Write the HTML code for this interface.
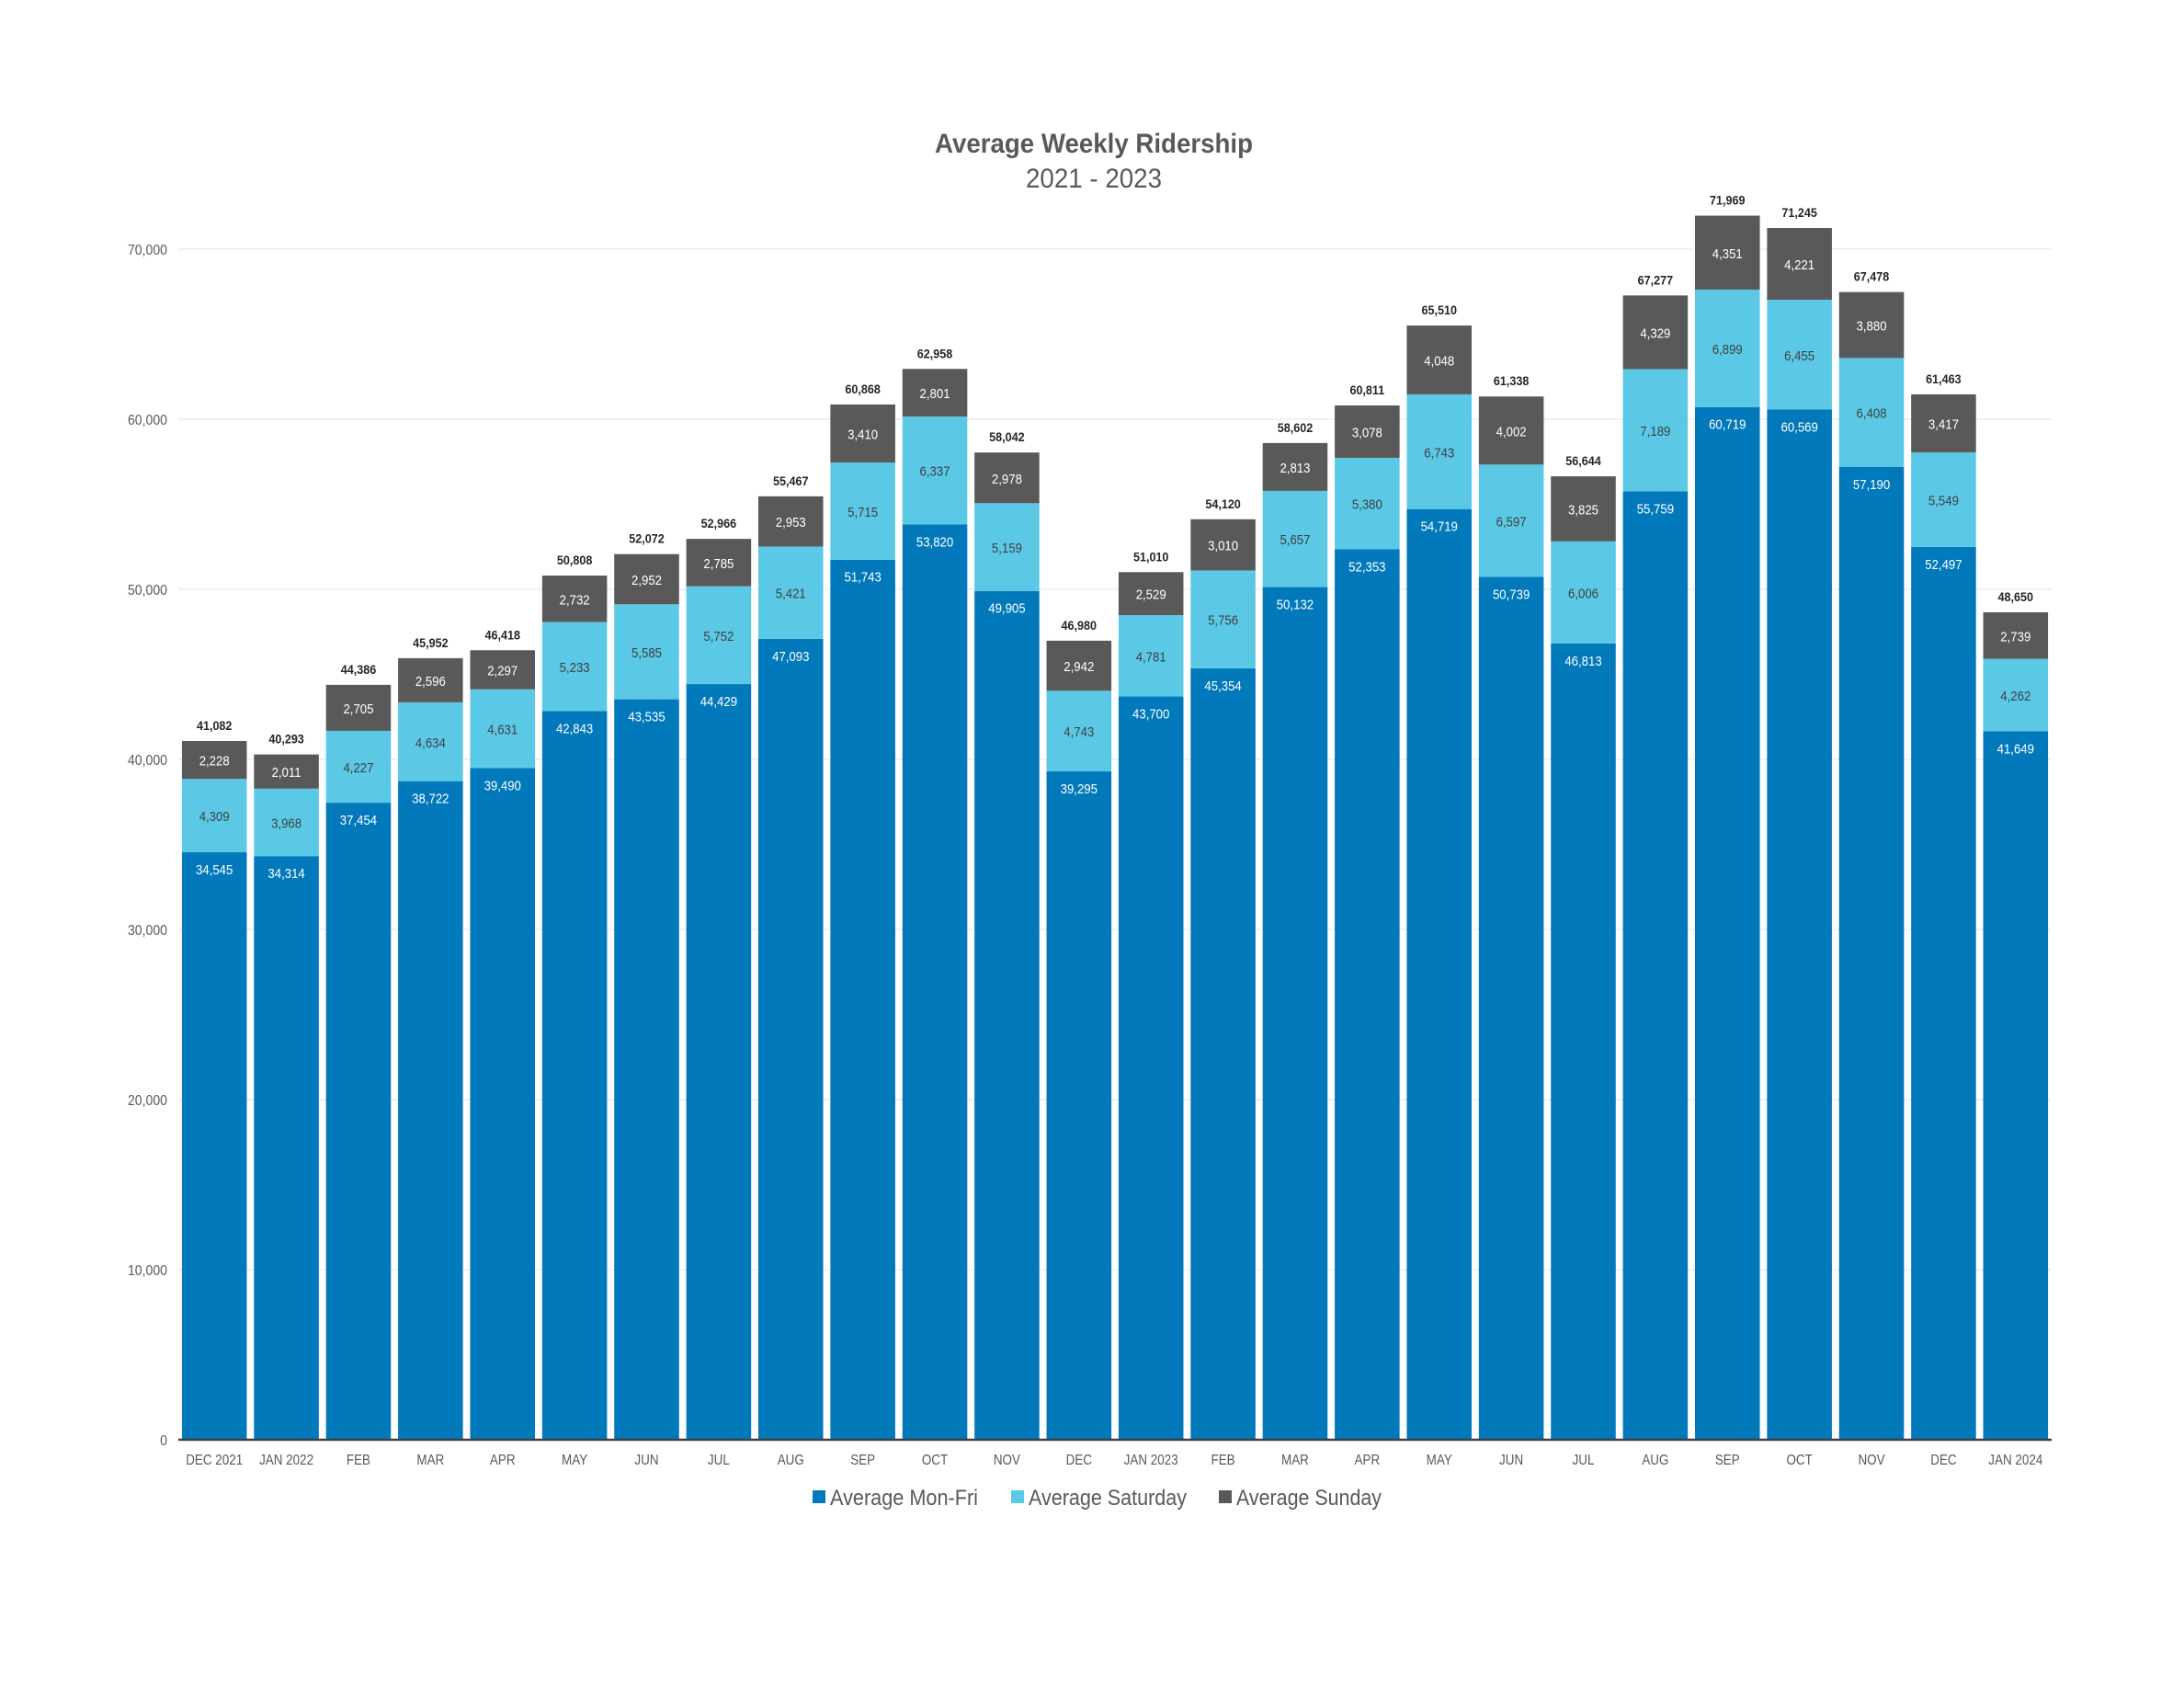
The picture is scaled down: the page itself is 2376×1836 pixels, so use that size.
<!DOCTYPE html>
<html><head><meta charset="utf-8"><style>
html,body{margin:0;padding:0;background:#fff;}
svg{display:block;font-family:"Liberation Sans Narrow","Liberation Sans",sans-serif;}
</style></head><body>
<svg id="chart" width="2376" height="1836" viewBox="0 0 2376 1836">
<text x="1190" y="166" text-anchor="middle" font-size="30" font-weight="bold" fill="#595959" textLength="346" lengthAdjust="spacingAndGlyphs">Average Weekly Ridership</text>
<text x="1190" y="204" text-anchor="middle" font-size="30" fill="#595959" textLength="148" lengthAdjust="spacingAndGlyphs">2021 - 2023</text>
<g id="grid"></g><g id="bars"></g><g id="axes"></g>
<g>
<rect x="884" y="1621" width="14" height="14" fill="#0279BA"/>
<text x="903" y="1637" font-size="24" fill="#595959" textLength="161" lengthAdjust="spacingAndGlyphs">Average Mon-Fri</text>
<rect x="1100" y="1621" width="14" height="14" fill="#5BC8E6"/>
<text x="1119" y="1637" font-size="24" fill="#595959" textLength="172" lengthAdjust="spacingAndGlyphs">Average Saturday</text>
<rect x="1326" y="1621" width="14" height="14" fill="#595959"/>
<text x="1345" y="1637" font-size="24" fill="#595959" textLength="158" lengthAdjust="spacingAndGlyphs">Average Sunday</text>
</g>
</svg>
<script>
const categories=["DEC 2021","JAN 2022","FEB","MAR","APR","MAY","JUN","JUL","AUG","SEP","OCT","NOV","DEC","JAN 2023","FEB","MAR","APR","MAY","JUN","JUL","AUG","SEP","OCT","NOV","DEC","JAN 2024"];
const monFri=[34545,34314,37454,38722,39490,42843,43535,44429,47093,51743,53820,49905,39295,43700,45354,50132,52353,54719,50739,46813,55759,60719,60569,57190,52497,41649];
const saturday=[4309,3968,4227,4634,4631,5233,5585,5752,5421,5715,6337,5159,4743,4781,5756,5657,5380,6743,6597,6006,7189,6899,6455,6408,5549,4262];
const sunday=[2228,2011,2705,2596,2297,2732,2952,2785,2953,3410,2801,2978,2942,2529,3010,2813,3078,4048,4002,3825,4329,4351,4221,3880,3417,2739];
const yTicks=[0,10000,20000,30000,40000,50000,60000,70000];
const NS="http://www.w3.org/2000/svg";
const X0=194,X1=2232,Y0=1566,PER10K=185;
const band=(X1-X0)/categories.length, bw=band*0.9;
function y(v){return Y0-v/10000*PER10K;}
function xc(i){return X0+band*(i+0.5);}
function fmt(v){return v.toLocaleString("en-US");}
function mk(tag,attrs,parent,txt){const e=document.createElementNS(NS,tag);for(const k in attrs)e.setAttribute(k,attrs[k]);if(txt!==undefined)e.textContent=txt;parent.appendChild(e);return e;}
const grid=document.getElementById("grid"),bars=document.getElementById("bars"),axes=document.getElementById("axes");
yTicks.forEach(t=>{
  if(t>0){const l=mk("line",{x1:X0,x2:X1,y1:y(t),y2:y(t),stroke:"#ececec","stroke-width":1.5},grid);
  
  }
  const tx=mk("text",{x:182,y:y(t)+6,"text-anchor":"end","font-size":16,fill:"#595959",transform:"translate(182 0) scale(0.88 1) translate(-182 0)"},axes,t===0?"0":fmt(t));
  
  
});
const series=[{v:monFri,c:"#0279BA",tc:"#ffffff",n:"mon-fri"},{v:saturday,c:"#5BC8E6",tc:"#404040",n:"saturday"},{v:sunday,c:"#595959",tc:"#ffffff",n:"sunday"}];
categories.forEach((cat,i)=>{
  let base=0;
  series.forEach((s,si)=>{
    const v=s.v[i],top=base+v;
    const r=mk("rect",{x:xc(i)-bw/2,y:y(top),width:bw,height:y(base)-y(top),fill:s.c},bars);
    
    
    const ly=si===0?y(top)+24:(y(top)+y(base))/2+6;
    const cx=xc(i);
    const t=mk("text",{x:cx,y:ly,"text-anchor":"middle","font-size":15,fill:s.tc,transform:`translate(${cx} 0) scale(0.88 1) translate(${-cx} 0)`},bars,fmt(v));
    
    
    base=top;
  });
  const cx=xc(i);
  const tot=mk("text",{x:cx,y:y(base)-12,"text-anchor":"middle","font-size":14,"font-weight":"bold",fill:"#262626",transform:`translate(${cx} 0) scale(0.9 1) translate(${-cx} 0)`},bars,fmt(base));
  
  
  const xl=mk("text",{x:cx,y:1593,"text-anchor":"middle","font-size":16,fill:"#595959",transform:`translate(${cx} 0) scale(0.84 1) translate(${-cx} 0)`},axes,cat);
  
  
});
const ax=mk("line",{x1:X0,x2:X1,y1:Y0,y2:Y0,stroke:"#404040","stroke-width":2.5},axes);


</script>
</body></html>
